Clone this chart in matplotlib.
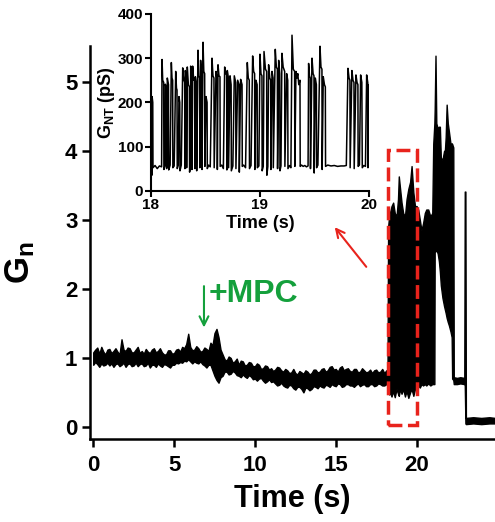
import numpy as np
import matplotlib
matplotlib.use('Agg')
import matplotlib.pyplot as plt
from matplotlib.patches import Rectangle

plt.rcParams['font.family'] = ['Liberation Sans', 'DejaVu Sans']
plt.rcParams['font.weight'] = 'bold'
plt.rcParams['mathtext.fontset'] = 'custom'
plt.rcParams['mathtext.rm'] = 'Liberation Sans:bold'
plt.rcParams['mathtext.bf'] = 'Liberation Sans:bold'
plt.rcParams['mathtext.it'] = 'Liberation Sans:bold'
plt.rcParams['mathtext.default'] = 'bf'

# ---------------- baseline part of main trace (0 - 18.125 s, sampled every 0.125 s)
base_t = list(np.arange(146) * 0.125)
base_hi = [1.08, 1.12, 1.15, 1.06, 1.16, 1.09, 1.05, 1.12,
           1.13, 1.07, 1.10, 1.14, 1.09, 1.05, 1.27, 1.12,
           1.10, 1.15, 1.14, 1.08, 1.08, 1.12, 1.16, 1.07,
           1.10, 1.06, 1.13, 1.09, 1.07, 1.12, 1.14, 1.08,
           1.10, 1.14, 1.08, 1.05, 1.05, 1.11, 1.11, 1.06,
           1.07, 1.12, 1.13, 1.09, 1.16, 1.14, 1.20, 1.35,
           1.16, 1.11, 1.12, 1.17, 1.14, 1.09, 1.10, 1.15,
           1.13, 1.10, 1.22, 1.18, 1.36, 1.42, 1.30, 1.12,
           1.05, 0.98, 0.96, 1.02, 1.00, 0.93, 0.95, 0.99,
           0.90, 0.96, 0.95, 0.89, 0.90, 0.94, 0.93, 0.88,
           0.88, 0.92, 0.90, 0.84, 0.85, 0.89, 0.88, 0.83,
           0.85, 0.81, 0.83, 0.87, 0.86, 0.82, 0.80, 0.84,
           0.82, 0.78, 0.79, 0.84, 0.78, 0.76, 0.81, 0.79,
           0.77, 0.82, 0.80, 0.76, 0.78, 0.83, 0.83, 0.79,
           0.80, 0.84, 0.85, 0.80, 0.82, 0.87, 0.88, 0.83,
           0.84, 0.80, 0.86, 0.88, 0.82, 0.84, 0.85, 0.81,
           0.80, 0.84, 0.84, 0.79, 0.80, 0.85, 0.82, 0.79,
           0.80, 0.83, 0.78, 0.82, 0.83, 0.79, 0.80, 0.84,
           0.78, 0.82]
base_lo = [0.90, 0.94, 0.91, 0.87, 0.92, 0.89, 0.90, 0.93,
           0.89, 0.92, 0.87, 0.91, 0.92, 0.88, 0.90, 0.93,
           0.87, 0.91, 0.92, 0.88, 0.89, 0.93, 0.88, 0.91,
           0.92, 0.88, 0.89, 0.93, 0.86, 0.90, 0.90, 0.87,
           0.92, 0.89, 0.87, 0.91, 0.90, 0.88, 0.86, 0.90,
           0.90, 0.93, 0.92, 0.94, 0.93, 0.96, 0.95, 0.98,
           0.95, 0.92, 0.95, 0.93, 0.92, 0.95, 0.91, 0.89,
           0.86, 0.90, 0.90, 0.82, 0.74, 0.68, 0.64, 0.72,
           0.74, 0.80, 0.80, 0.76, 0.77, 0.81, 0.79, 0.75,
           0.74, 0.72, 0.76, 0.73, 0.71, 0.75, 0.73, 0.69,
           0.70, 0.67, 0.70, 0.71, 0.67, 0.64, 0.66, 0.69,
           0.65, 0.66, 0.63, 0.60, 0.61, 0.64, 0.60, 0.58,
           0.57, 0.61, 0.60, 0.56, 0.54, 0.58, 0.58, 0.55,
           0.50, 0.57, 0.56, 0.53, 0.55, 0.59, 0.58, 0.56,
           0.60, 0.58, 0.57, 0.61, 0.60, 0.58, 0.62, 0.60,
           0.59, 0.63, 0.62, 0.58, 0.59, 0.62, 0.62, 0.60,
           0.60, 0.58, 0.61, 0.63, 0.59, 0.61, 0.62, 0.59,
           0.59, 0.62, 0.62, 0.59, 0.60, 0.63, 0.62, 0.60,
           0.60, 0.62]

# ---------------- active part of main trace (18.2 s - end)
act_t = [18.2, 18.24, 18.3, 18.35, 18.45, 18.55, 18.65, 18.76, 18.85, 18.9, 18.98, 19.07, 19.17, 19.28,
         19.38, 19.49, 19.6, 19.69, 19.8, 19.9, 20.0, 20.1, 20.2, 20.3, 20.4, 20.51, 20.6, 20.72,
         20.85, 20.97, 21.03, 21.10, 21.12, 21.17, 21.22, 21.30, 21.38, 21.44, 21.50, 21.60,
         21.70, 21.75, 21.80, 21.86, 21.93, 22.00, 22.10, 22.17, 22.20, 22.27, 22.30, 22.5, 22.7,
         22.95, 22.98, 23.02, 23.05, 23.5, 24.0, 24.5, 24.85]
act_hi = [0.80, 2.90, 3.05, 3.10, 3.20, 3.25, 3.10, 3.05, 3.30, 3.63, 3.45, 3.25, 3.10, 3.05,
          3.30, 3.45, 3.55, 3.78, 3.40, 3.20, 3.20, 3.15, 3.00, 2.85, 2.95, 3.10, 3.15, 3.15,
          3.05, 3.10, 4.10, 4.40, 4.60, 5.38, 4.40, 4.33, 4.35, 4.35, 3.90, 3.87,
          4.00, 4.00, 4.20, 4.67, 4.40, 4.28, 4.10, 4.11, 4.10, 4.05, 0.72, 0.71, 0.72,
          0.71, 3.41, 3.41, 0.13, 0.14, 0.13, 0.14, 0.13]
act_lo = [0.61, 0.55, 0.47, 0.50, 0.44, 0.52, 0.43, 0.55, 0.48, 0.45, 0.55, 0.48, 0.55, 0.44,
          0.52, 0.42, 0.50, 0.55, 0.45, 0.55, 0.58, 0.60, 0.57, 0.62, 0.60, 0.62, 0.60, 0.63,
          0.60, 0.62, 0.62, 0.62, 2.55, 2.55, 2.55, 2.52, 2.40, 2.25, 2.05, 1.87,
          1.75, 1.70, 1.65, 1.58, 1.52, 1.47, 1.38, 1.30, 0.70, 0.68, 0.62, 0.62, 0.63,
          0.62, 0.60, 0.05, 0.04, 0.05, 0.04, 0.05, 0.05]

# ---------------- inset trace: G_NT (pS) vs time (s)
inset_t = [18.000, 18.008, 18.011, 18.013, 18.019, 18.021, 18.040, 18.060, 18.080, 18.100, 18.104, 18.110,
           18.119, 18.121, 18.132, 18.134, 18.144, 18.146, 18.150, 18.152, 18.163, 18.165, 18.178, 18.189,
           18.195, 18.201, 18.203, 18.215, 18.229, 18.236, 18.241, 18.243, 18.252, 18.259, 18.266, 18.268,
           18.280, 18.293, 18.305, 18.311, 18.313, 18.317, 18.327, 18.329, 18.335, 18.345, 18.354, 18.356,
           18.364, 18.366, 18.376, 18.378, 18.384, 18.394, 18.402, 18.404, 18.409, 18.419, 18.421, 18.433,
           18.440, 18.448, 18.450, 18.457, 18.468, 18.470, 18.479, 18.486, 18.494, 18.496, 18.506, 18.516,
           18.518, 18.530, 18.545, 18.561, 18.570, 18.579, 18.581, 18.598, 18.608, 18.610, 18.616, 18.625,
           18.634, 18.636, 18.650, 18.665, 18.677, 18.687, 18.695, 18.697, 18.701, 18.711, 18.713, 18.726,
           18.736, 18.738, 18.752, 18.765, 18.778, 18.780, 18.796, 18.809, 18.811, 18.823, 18.836, 18.838,
           18.850, 18.868, 18.884, 18.893, 18.902, 18.904, 18.918, 18.933, 18.942, 18.951, 18.953, 18.963,
           18.974, 18.976, 18.990, 19.000, 19.009, 19.018, 19.020, 19.030, 19.037, 19.050, 19.061, 19.063,
           19.072, 19.079, 19.090, 19.098, 19.100, 19.110, 19.120, 19.122, 19.140, 19.150, 19.159, 19.161,
           19.171, 19.181, 19.183, 19.192, 19.201, 19.212, 19.226, 19.228, 19.244, 19.254, 19.256, 19.270,
           19.283, 19.293, 19.305, 19.317, 19.319, 19.329, 19.338, 19.346, 19.355, 19.366, 19.368, 19.380,
           19.395, 19.410, 19.425, 19.440, 19.445, 19.453, 19.460, 19.462, 19.476, 19.486, 19.494, 19.496,
           19.506, 19.516, 19.518, 19.530, 19.549, 19.558, 19.567, 19.569, 19.579, 19.590, 19.598, 19.600,
           19.620, 19.650, 19.680, 19.710, 19.740, 19.770, 19.790, 19.805, 19.815, 19.823, 19.825, 19.841,
           19.851, 19.860, 19.862, 19.878, 19.888, 19.896, 19.898, 19.910, 19.921, 19.932, 19.936, 19.950,
           19.965, 19.976, 19.986, 19.988, 19.994, 20.000]
inset_g = [55, 52, 35, 213, 200, 52, 57, 50, 56, 54, 297, 250,
           245, 48, 56, 241, 230, 50, 55, 255, 240, 47, 58, 290,
           255, 250, 52, 56, 270, 232, 228, 50, 57, 213, 200, 45,
           58, 278, 250, 245, 50, 272, 245, 52, 280, 240, 235, 42,
           55, 282, 250, 48, 282, 250, 255, 50, 258, 240, 45, 318,
           260, 255, 52, 295, 250, 48, 336, 270, 265, 55, 213, 200,
           50, 58, 54, 300, 260, 255, 52, 270, 250, 48, 285, 260,
           258, 55, 58, 50, 280, 265, 262, 47, 272, 255, 52, 260,
           240, 45, 56, 260, 245, 50, 250, 240, 42, 252, 240, 55,
           58, 52, 290, 255, 250, 50, 57, 305, 270, 265, 48, 250,
           240, 52, 56, 309, 265, 260, 45, 55, 315, 275, 270, 35,
           55, 285, 255, 250, 48, 270, 255, 52, 320, 280, 275, 50,
           295, 265, 45, 56, 311, 280, 270, 55, 265, 250, 50, 57,
           52, 352, 275, 270, 55, 270, 255, 265, 240, 250, 55, 58,
           55, 57, 54, 56, 288, 260, 255, 50, 300, 265, 260, 40,
           255, 240, 52, 58, 327, 280, 275, 48, 258, 240, 235, 55,
           58, 56, 57, 55, 56, 56, 57, 277, 255, 250, 52, 272,
           250, 245, 50, 262, 245, 240, 55, 58, 262, 245, 52, 57,
           55, 262, 245, 52, 240, 240]

main_xticks = [0, 5, 10, 15, 20]
main_yticks = [0, 1, 2, 3, 4, 5]
inset_xticks = [18, 19, 20]
inset_yticks = [0, 100, 200, 300, 400]

GREEN = '#14a03c'
RED = '#e8231c'

main_t = base_t + act_t
main_hi = base_hi + act_hi
main_lo = base_lo + act_lo

fig = plt.figure(figsize=(4.95, 5.22), dpi=100)

# ---------------- main axes
ax = fig.add_axes([0.1818, 0.1584, 0.8182, 0.7535])
ax.fill_between(main_t, main_lo, main_hi, facecolor='black', edgecolor='black', linewidth=1.0)
ax.set_xlim(-0.2, 24.85)
ax.set_ylim(-0.18, 5.52)
ax.set_xticks(main_xticks)
ax.set_yticks(main_yticks)
for s in ['top', 'right']:
    ax.spines[s].set_visible(False)
for s in ['left', 'bottom']:
    ax.spines[s].set_linewidth(1.8)
ax.tick_params(direction='out', length=6, width=1.8, labelsize=16)
ax.tick_params(axis='x', pad=5)
ax.tick_params(axis='y', pad=3)
for lab in ax.get_xticklabels() + ax.get_yticklabels():
    lab.set_fontweight('bold')
ax.set_xlabel('Time (s)', fontsize=22, fontweight='bold', labelpad=6)
ax.set_ylabel('G$_n$', fontsize=25, fontweight='bold')
ax.yaxis.set_label_coords(-0.13, 0.45)

# red dashed box around the zoomed segment
ax.add_patch(Rectangle((18.24, 0.03), 1.76, 3.98, fill=False, edgecolor=RED,
                       linewidth=2.5, linestyle=(0, (4, 1.6)), zorder=5))

# MPC addition marker
ax.annotate('', xy=(6.85, 1.4), xytext=(6.85, 2.08),
            arrowprops=dict(arrowstyle='->', color=GREEN, lw=1.5, mutation_scale=16))
ax.text(7.15, 1.92, '+MPC', color=GREEN, fontsize=23, fontweight='bold', va='center', ha='left')

# red arrow pointing to the inset
ax.annotate('', xy=(333, 297), xycoords='figure pixels', xytext=(368, 253), textcoords='figure pixels',
            arrowprops=dict(arrowstyle='->', color=RED, lw=1.5, mutation_scale=15))

# ---------------- inset axes
ax2 = fig.add_axes([0.3044, 0.6347, 0.4416, 0.3385])
ax2.plot(inset_t, inset_g, color='black', lw=1.1)
ax2.set_xlim(18, 20)
ax2.set_ylim(0, 400)
ax2.set_xticks(inset_xticks)
ax2.set_yticks(inset_yticks)
for s in ['top', 'right']:
    ax2.spines[s].set_visible(False)
for s in ['left', 'bottom']:
    ax2.spines[s].set_linewidth(1.5)
ax2.tick_params(direction='out', length=4, width=1.5, labelsize=11, pad=1.5)
for lab in ax2.get_xticklabels() + ax2.get_yticklabels():
    lab.set_fontweight('bold')
ax2.set_xlabel('Time (s)', fontsize=13, fontweight='bold', labelpad=2)
ax2.set_ylabel('G$_{NT}$ (pS)', fontsize=13, fontweight='bold', labelpad=0.5)
ax2.patch.set_alpha(0)

fig.savefig('out.png', dpi=100)
